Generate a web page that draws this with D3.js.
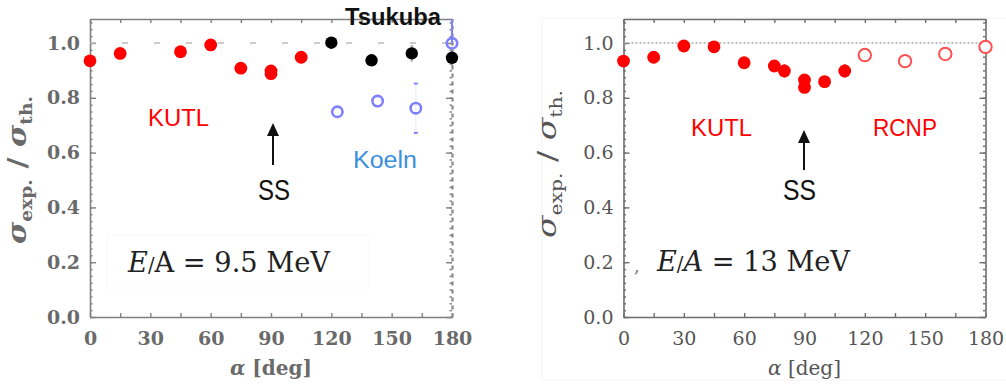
<!DOCTYPE html>
<html>
<head>
<meta charset="utf-8">
<script src="https://cdn.jsdelivr.net/npm/d3@7"></script>
<style>
  html, body { margin: 0; padding: 0; background: #fff; }
  svg { display: block; }
</style>
</head>
<body>
<svg id="chart" width="1006" height="387"></svg>
<script>
// ---- data: cross-section ratio vs. alpha ----
const xTicks = [0, 30, 60, 90, 120, 150, 180];
const yTicks = [0.0, 0.2, 0.4, 0.6, 0.8, 1.0];

// E/A = 9.5 MeV
const kutlAngle9 = [0, 15, 45, 60, 75, 90, 90, 105];
const kutlRatio9 = [0.935, 0.962, 0.968, 0.993, 0.908, 0.888, 0.898, 0.948];
const kutlErr9   = [0.01, 0.01, 0.02, 0.01, 0.01, 0.01, 0.01, 0.01];

const tsukubaAngle = [120, 140, 160, 180];
const tsukubaRatio = [1.001, 0.937, 0.962, 0.946];
const tsukubaErr   = [0.01, 0.01, 0.03, 0.03];

const koelnAngle = [123, 143, 162, 180];
const koelnRatio = [0.749, 0.788, 0.762, 0.999];
const koelnErr   = [0.0, 0.0, 0.09, 0.09];

// E/A = 13 MeV
const kutlAngle13 = [0, 15, 30, 45, 60, 75, 80, 90, 90, 100, 110];
const kutlRatio13 = [0.934, 0.948, 0.989, 0.986, 0.928, 0.916, 0.898, 0.865, 0.838, 0.859, 0.898];
const kutlErr13   = [0.01, 0.01, 0.01, 0.01, 0.02, 0.01, 0.025, 0.02, 0.02, 0.02, 0.025];

const rcnpAngle = [120, 140, 160, 180];
const rcnpRatio = [0.956, 0.934, 0.960, 0.986];
const rcnpErr   = [0.01, 0.01, 0.01, 0.02];

const Y_MAX = 1.0876;
const SERIF = "'DejaVu Serif', serif";
const SANS = "'Liberation Sans', Arial, sans-serif";

const svg = d3.select("#chart");

// faint frame around the right-hand figure
svg.append("rect").attr("x", 542).attr("y", 18).attr("width", 470).attr("height", 362)
  .attr("fill", "none").attr("stroke", "#f3f3f3").attr("stroke-width", 1);

function makePanel(cfg) {
  const g = svg.append("g");
  const x = d3.scaleLinear().domain([0, 180]).range([cfg.left, cfg.right]);
  const y = d3.scaleLinear().domain([0, Y_MAX]).range([317, 19]);
  const axisColor = cfg.axisColor;

  const style = sel => {
    sel.selectAll("path.domain").attr("stroke", axisColor).attr("stroke-width", 1.6);
    sel.selectAll(".tick line").attr("stroke", axisColor).attr("stroke-width", 1.4);
    sel.selectAll(".tick text").attr("fill", cfg.labelColor)
      .attr("font-family", SERIF).attr("font-size", 19).attr("font-weight", cfg.labelWeight);
  };

  const minorX = d3.range(0, 181, 15);
  const minorY = d3.range(0, Y_MAX, 0.025);

  // bottom
  g.append("g").attr("transform", "translate(0,317)")
    .call(d3.axisBottom(x).tickValues(minorX).tickSizeInner(-4).tickSizeOuter(0)
      .tickPadding(15).tickFormat(d => xTicks.includes(d) ? d3.format("d")(d) : ""))
    .call(style);
  // top
  g.append("g").attr("transform", "translate(0,19)")
    .call(d3.axisTop(x).tickValues(minorX).tickSizeInner(-4).tickSizeOuter(0).tickFormat(""))
    .call(style);
  // left
  g.append("g").attr("transform", `translate(${cfg.left},0)`)
    .call(d3.axisLeft(y).tickValues(yTicks).tickSizeInner(-6).tickSizeOuter(0)
      .tickPadding(10).tickFormat(d3.format(".1f")))
    .call(style);
  g.append("g").attr("transform", `translate(${cfg.left},0)`)
    .call(d3.axisLeft(y).tickValues(minorY).tickSizeInner(-2.5).tickSizeOuter(0).tickFormat(""))
    .call(style).call(s => s.select("path.domain").remove());
  // right
  const ra = g.append("g").attr("transform", `translate(${cfg.right},0)`)
    .call(d3.axisRight(y).tickValues(yTicks).tickSizeInner(-6).tickSizeOuter(0).tickFormat(""))
    .call(style);
  g.append("g").attr("transform", `translate(${cfg.right},0)`)
    .call(d3.axisRight(y).tickValues(minorY).tickSizeInner(-2.5).tickSizeOuter(0).tickFormat(""))
    .call(style).call(s => s.select("path.domain").remove());
  if (cfg.dottedRight) {
    ra.select("path.domain").attr("stroke-dasharray", "4 4").attr("stroke-width", 2.2).attr("stroke", "#888");
  }

  // reference line at unity
  g.append("line").attr("x1", x(0)).attr("x2", x(180)).attr("y1", y(1)).attr("y2", y(1))
    .attr("stroke", cfg.unityColor).attr("stroke-width", 1.5)
    .attr("stroke-dasharray", cfg.unityDash);

  // axis titles
  const yt = g.append("text")
    .attr("transform", `translate(${cfg.ytX},${cfg.ytY}) rotate(-90)`)
    .attr("text-anchor", "middle").attr("font-family", SERIF).attr("fill", cfg.labelColor)
    .attr("font-weight", cfg.labelWeight)
    .attr("textLength", 148).attr("lengthAdjust", "spacingAndGlyphs");
  yt.append("tspan").attr("font-size", 26).attr("font-style", "italic").text("σ");
  yt.append("tspan").attr("font-size", 16).attr("dy", 6).text("exp.");
  yt.append("tspan").attr("font-size", 26).attr("dy", -6).text(" / ");
  yt.append("tspan").attr("font-size", 26).attr("font-style", "italic").text("σ");
  yt.append("tspan").attr("font-size", 16).attr("dy", 6).text("th.");

  const xt = g.append("text").attr("x", (cfg.left + cfg.right) / 2).attr("y", 375)
    .attr("text-anchor", "middle").attr("font-family", SERIF).attr("font-size", 20)
    .attr("fill", cfg.labelColor).attr("font-weight", cfg.labelWeight);
  xt.append("tspan").attr("font-style", "italic").text("α");
  xt.append("tspan").text(" [deg]");

  return { g, x, y };
}

function errorBars(p, angles, ratios, errs, color, width, opacity) {
  p.g.append("g").selectAll("line").data(angles.map((a, i) => [a, ratios[i], errs[i]]).filter(d => d[2] > 0))
    .join("line")
    .attr("x1", d => p.x(d[0])).attr("x2", d => p.x(d[0]))
    .attr("y1", d => p.y(Math.min(d[1] + d[2], Y_MAX))).attr("y2", d => p.y(d[1] - d[2]))
    .attr("stroke", color).attr("stroke-width", width).attr("opacity", opacity);
}

function dots(p, angles, ratios, opts) {
  p.g.append("g").selectAll("circle").data(angles.map((a, i) => [a, ratios[i]]))
    .join("circle")
    .attr("cx", d => p.x(d[0])).attr("cy", d => p.y(d[1])).attr("r", opts.r)
    .attr("fill", opts.fill).attr("stroke", opts.stroke || "none")
    .attr("stroke-width", opts.sw || 0);
}

function arrow(g, x, yTip, yEnd) {
  g.append("line").attr("x1", x).attr("x2", x).attr("y1", yTip + 10).attr("y2", yEnd)
    .attr("stroke", "#111").attr("stroke-width", 2);
  g.append("path").attr("d", `M${x},${yTip} L${x - 6},${yTip + 13} L${x + 6},${yTip + 13} Z`).attr("fill", "#111");
}

function label(g, txt, x, y, size, color, weight, len) {
  const t = g.append("text").attr("x", x).attr("y", y).attr("font-family", SANS)
    .attr("font-size", size).attr("fill", color).attr("font-weight", weight || "normal").text(txt);
  if (len) t.attr("textLength", len).attr("lengthAdjust", "spacingAndGlyphs");
  return t;
}

// ---------- left: E/A = 9.5 MeV ----------
const pL = makePanel({
  left: 90, right: 452, axisColor: "#808080", labelColor: "#6a6a6a", labelWeight: "bold",
  dottedRight: true, unityColor: "#bbbbbb", unityDash: "6 26", ytX: 26, ytY: 170
});

pL.g.append("rect").attr("x", 107).attr("y", 235).attr("width", 261).attr("height", 53)
  .attr("fill", "none").attr("stroke", "#f8f8f8");

errorBars(pL, kutlAngle9, kutlRatio9, kutlErr9, "#ff4444", 2, 0.8);
errorBars(pL, tsukubaAngle, tsukubaRatio, tsukubaErr, "#999", 2, 0.9);
errorBars(pL, koelnAngle, koelnRatio, koelnErr, "#8080ff", 1.5, 0.12);
// end caps on the Koeln error bars
pL.g.append("g").selectAll("line")
  .data(koelnAngle.flatMap((a, i) => koelnErr[i] > 0 && koelnRatio[i] - koelnErr[i] > 0.5 && koelnRatio[i] + koelnErr[i] < 1.0
      ? [[a, koelnRatio[i] + koelnErr[i]], [a, koelnRatio[i] - koelnErr[i]]] : []))
  .join("line")
  .attr("x1", d => pL.x(d[0]) - 2).attr("x2", d => pL.x(d[0]) + 2)
  .attr("y1", d => pL.y(d[1])).attr("y2", d => pL.y(d[1]))
  .attr("stroke", "#8080ff").attr("stroke-width", 2);
// upper part of the 180° Koeln bar running to the frame
pL.g.append("line")
  .attr("x1", pL.x(koelnAngle[3])).attr("x2", pL.x(koelnAngle[3]))
  .attr("y1", pL.y(Math.min(koelnRatio[3] + koelnErr[3], Y_MAX))).attr("y2", pL.y(koelnRatio[3]))
  .attr("stroke", "#7f7fff").attr("stroke-width", 2);

dots(pL, kutlAngle9, kutlRatio9, { r: 6.4, fill: "#ff0000" });
dots(pL, tsukubaAngle, tsukubaRatio, { r: 6.2, fill: "#000" });
dots(pL, koelnAngle, koelnRatio, { r: 5.2, fill: "none", stroke: "#7f7fff", sw: 2.6 });

label(pL.g, "Tsukuba", 345, 25, 24, "#111", "bold", 96);
label(pL.g, "KUTL", 148, 126, 24, "#ff0000", "normal", 61);
label(pL.g, "Koeln", 353, 168, 23, "#3b8fdc", "normal", 64);
arrow(pL.g, 273, 123, 165);
label(pL.g, "SS", 258, 200, 30, "#111", "normal", 32);

const eL = pL.g.append("text").attr("x", 128).attr("y", 272).attr("font-family", SERIF)
  .attr("font-size", 28).attr("fill", "#222")
  .attr("textLength", 202).attr("lengthAdjust", "spacingAndGlyphs");
eL.append("tspan").attr("font-style", "italic").text("E");
eL.append("tspan").attr("font-size", 20).text("/");
eL.append("tspan").text("A = 9.5 MeV");

// ---------- right: E/A = 13 MeV ----------
const pR = makePanel({
  left: 623.5, right: 985.5, axisColor: "#6e6e6e", labelColor: "#555", labelWeight: "normal",
  dottedRight: false, unityColor: "#aaaaaa", unityDash: "2 2", ytX: 556, ytY: 164
});

errorBars(pR, kutlAngle13, kutlRatio13, kutlErr13, "#ff2020", 2, 0.9);
errorBars(pR, rcnpAngle, rcnpRatio, rcnpErr, "#ff6060", 1.5, 0.8);
dots(pR, kutlAngle13, kutlRatio13, { r: 6.4, fill: "#ff0000" });
dots(pR, rcnpAngle, rcnpRatio, { r: 6.2, fill: "#fff", stroke: "#ff5050", sw: 2 });

label(pR.g, "KUTL", 691, 136, 24, "#ff0000", "normal", 61);
label(pR.g, "RCNP", 873, 136, 23, "#ff0000", "normal", 64);
arrow(pR.g, 804, 130, 170);
label(pR.g, "SS", 783, 200, 30, "#111", "normal", 33);

pR.g.append("text").attr("x", 634).attr("y", 272).attr("font-family", SERIF)
  .attr("font-size", 18).attr("fill", "#777").text(",");

const eR = pR.g.append("text").attr("x", 657).attr("y", 271).attr("font-family", SERIF)
  .attr("font-size", 28).attr("fill", "#222")
  .attr("textLength", 193).attr("lengthAdjust", "spacingAndGlyphs");
eR.append("tspan").attr("font-style", "italic").text("E");
eR.append("tspan").attr("font-size", 20).text("/");
eR.append("tspan").attr("font-style", "italic").text("A");
eR.append("tspan").text(" = 13 MeV");
</script>
</body>
</html>
